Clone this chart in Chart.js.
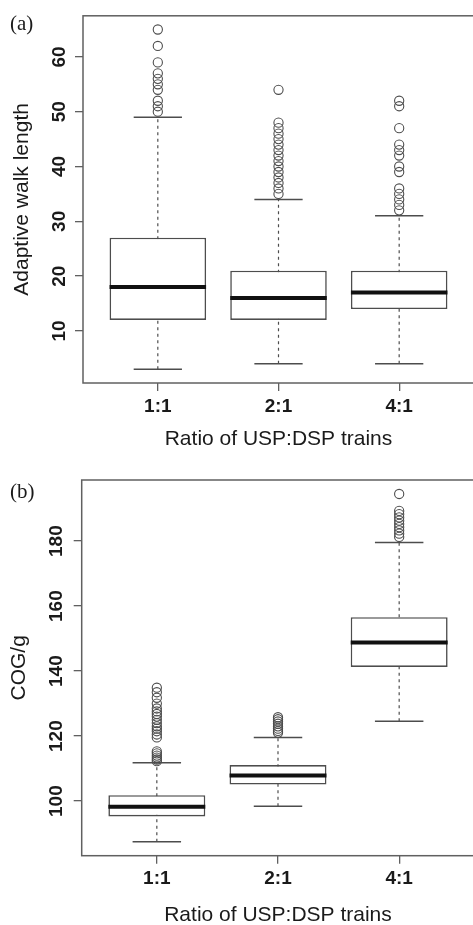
<!DOCTYPE html>
<html>
<head>
<meta charset="utf-8">
<script src="https://cdn.jsdelivr.net/npm/chart.js@4.4.1/dist/chart.umd.min.js"></script>
<style>
  html, body { margin: 0; padding: 0; background: #fff; overflow: hidden; }
  #page { position: relative; width: 473px; height: 925px; overflow: hidden; }
  canvas { position: absolute; left: 0; }
  .tag { position: absolute; left: 10px; font: 21px 'Liberation Serif', serif; color: #1a1a1a; line-height: 1; }
</style>
</head>
<body>
<div id="page">
  <canvas id="walkChart" width="480" height="462" style="top:0"></canvas>
  <canvas id="cogChart" width="480" height="480" style="top:462px"></canvas>
  <div class="tag" style="top: 13px;">(a)</div>
  <div class="tag" style="top: 481px;">(b)</div>
</div>
<script>
const categories = ['1:1', '2:1', '4:1'];

// (a) adaptive walk length
const walkLower = [3, 4, 4];
const walkQ1 = [12, 12, 14];
const walkMedian = [18, 16, 17];
const walkQ3 = [27, 21, 21];
const walkUpper = [49, 34, 31];
const walkOutliers = [
    [50, 51, 52, 54, 55, 56, 57, 59, 62, 65],
    [35, 36, 37, 38, 39, 40, 41, 42, 43, 44, 45, 46, 47, 48, 54],
    [32, 33, 34, 35, 36, 39, 40, 42, 43, 44, 47, 51, 52]
];
const walkTicks = [10, 20, 30, 40, 50, 60];

// (b) COG/g
const cogLower = [87.5, 98.4, 124.6];
const cogQ1 = [95.3, 105.1, 141.3];
const cogMedian = [98.3, 107.9, 148.8];
const cogQ3 = [101.8, 111.1, 156.6];
const cogUpper = [111.8, 119.6, 179.6];
const cogOutliers = [
    [112.3, 112.8, 113.4, 114, 114.7, 115.3, 119.6, 120.5, 121.5, 122.3, 123, 124, 125, 126, 126.8, 127.6, 128.5, 130, 131.8, 133.5, 134.9],
    [121, 121.6, 122.3, 123, 123.8, 124.5, 125.2, 125.8],
    [181.3, 182.3, 183.3, 184.3, 185.3, 186.3, 187.3, 188.3, 189.3, 194.5]
];
const cogTicks = [100, 120, 140, 160, 180];

const ink = '#1a1a1a';
const lineGray = '#4d4d4d';
const frameGray = '#606060';

// R style box around the plot region
const frame = {
    id: 'frame',
    afterDatasetsDraw(chart) {
        const { ctx, chartArea: a } = chart;
        ctx.save();
        ctx.strokeStyle = frameGray;
        ctx.lineWidth = 1.5;
        ctx.strokeRect(a.left, a.top, a.right - a.left, a.bottom - a.top);
        ctx.restore();
    }
};

function boxChart(id, s, cfg) {
    const whiskers = [], caps = [], medians = [], boxes = [], points = [];
    categories.forEach((c, i) => {
        const x = i + 1;
        whiskers.push({ x, y: s.lower[i] }, { x, y: s.upper[i] }, { x, y: null });
        [s.lower[i], s.upper[i]].forEach(v => caps.push({ x: x - 0.2, y: v }, { x: x + 0.2, y: v }, { x, y: null }));
        medians.push({ x: x - 0.4, y: s.median[i] }, { x: x + 0.4, y: s.median[i] }, { x, y: null });
        boxes.push({ x, y: [s.q1[i], s.q3[i]] });
        s.outliers[i].forEach(v => points.push({ x, y: v }));
    });

    return new Chart(document.getElementById(id), {
        type: 'scatter',
        data: {
            datasets: [
                { type: 'line', data: whiskers, borderColor: lineGray, borderWidth: 1.2, borderDash: [3, 3.5], pointRadius: 0, spanGaps: false, order: 4 },
                { type: 'line', data: caps, borderColor: lineGray, borderWidth: 1.5, pointRadius: 0, spanGaps: false, order: 3 },
                { type: 'bar', data: boxes, backgroundColor: '#fff', borderColor: lineGray, borderWidth: 1.6, borderSkipped: false,
                  categoryPercentage: 1, barPercentage: 0.8, order: 2 },
                { type: 'line', data: medians, borderColor: '#111', borderWidth: 4, pointRadius: 0, spanGaps: false, order: 1 },
                { type: 'scatter', data: points, pointStyle: 'circle', pointRadius: 4.6, borderColor: lineGray,
                  borderWidth: 1.1, backgroundColor: 'rgba(0,0,0,0)', order: 0 }
            ]
        },
        options: {
            responsive: false,
            animation: false,
            events: [],
            devicePixelRatio: 1,
            layout: { padding: { left: 0, top: cfg.top, right: cfg.right, bottom: 0 } },
            plugins: { legend: { display: false }, tooltip: { enabled: false } },
            scales: {
                x: {
                    type: 'linear', min: 0.38, max: 3.62, offset: false,
                    afterBuildTicks: sc => { sc.ticks = categories.map((c, i) => ({ value: i + 1 })); },
                    afterFit: sc => { sc.height = cfg.xHeight; },
                    grid: { drawOnChartArea: false, tickLength: 8, color: frameGray, lineWidth: 1.3, offset: false },
                    border: { display: false },
                    ticks: { callback: v => categories[v - 1], font: { size: 19, weight: 'bold' }, color: ink,
                             padding: 4, maxRotation: 0, autoSkip: false },
                    title: { display: true, text: 'Ratio of USP:DSP trains', font: { size: 21 }, color: ink,
                             padding: { top: 0, bottom: cfg.xTitlePad } }
                },
                y: {
                    type: 'linear', min: cfg.yMin, max: cfg.yMax, beginAtZero: false,
                    afterBuildTicks: sc => { sc.ticks = cfg.ticks.map(v => ({ value: v })); },
                    afterFit: sc => { sc.width = cfg.yWidth; },
                    grid: { drawOnChartArea: false, tickLength: 8, color: frameGray, lineWidth: 1.3 },
                    border: { display: false },
                    ticks: { font: { size: 19, weight: 'bold' }, color: ink, padding: cfg.yTickPad,
                             minRotation: 90, maxRotation: 90, crossAlign: 'center' },
                    title: { display: true, text: cfg.yTitle, font: { size: 21 }, color: ink,
                             padding: { top: cfg.yTitlePad, bottom: 0 } }
                }
            }
        },
        plugins: [frame]
    });
}

Chart.defaults.font.family = "'Liberation Sans', Arial, sans-serif";

boxChart('walkChart',
    { lower: walkLower, q1: walkQ1, median: walkMedian, q3: walkQ3, upper: walkUpper, outliers: walkOutliers },
    { top: 14, right: 6, xHeight: 79, yWidth: 83, yMin: 0.5, yMax: 67.5, ticks: walkTicks,
      yTitle: 'Adaptive walk length', yTitlePad: 10, yTickPad: 4.4, xTitlePad: 10.5 });

boxChart('cogChart',
    { lower: cogLower, q1: cogQ1, median: cogMedian, q3: cogQ3, upper: cogUpper, outliers: cogOutliers },
    { top: 18, right: 2.5, xHeight: 86.3, yWidth: 81.7, yMin: 83.2, yMax: 198.8, ticks: cogTicks,
      yTitle: 'COG/g', yTitlePad: 6.8, yTickPad: 1.4, xTitlePad: 14.4 });
</script>
</body>
</html>
